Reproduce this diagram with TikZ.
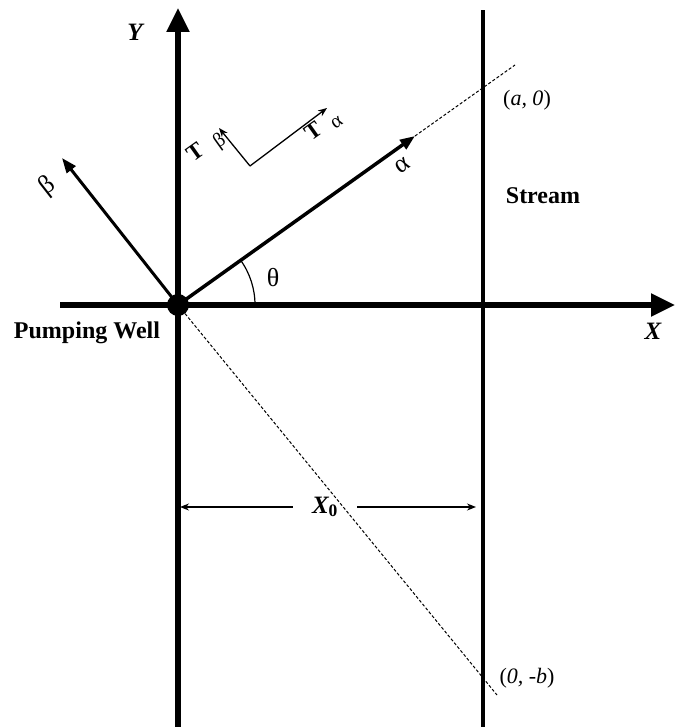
\documentclass[tikz,border=0pt]{standalone}
\usepackage{fontspec}
\setmainfont{Liberation Serif}
\usetikzlibrary{arrows.meta,positioning,calc}
\tikzset{
  ejeg/.style    = {line width=5.5pt, -{Triangle[length=24pt,width=22pt]}},
  ejerot/.style  = {line width=3.5pt, -{Triangle[length=15pt,width=11pt]}},
  rio/.style     = {line width=4pt},
  guia/.style    = {line width=1pt, dash pattern=on 3pt off 2pt},
  cota/.style    = {line width=1.3pt, -{Stealth[length=9pt,width=7pt]}},
  tens/.style    = {line width=1.3pt, -{Stealth[length=9pt,width=7pt]}},
  lbl/.style     = {font=\fontsize{26}{28}\selectfont, inner sep=0pt},
  lblt/.style    = {font=\bfseries\fontsize{23}{25}\selectfont, inner sep=0pt},
  lblg/.style    = {font=\fontsize{20}{22}\selectfont, inner sep=0pt},
  lblb/.style    = {font=\bfseries\fontsize{24}{26}\selectfont, inner sep=1pt},
  lblbi/.style   = {font=\bfseries\itshape\fontsize{25}{27}\selectfont, inner sep=1pt},
  lbli/.style    = {font=\fontsize{22}{24}\selectfont, inner sep=1pt},
}

\begin{document}
\begin{tikzpicture}[x=1pt, y=-1pt]
  \useasboundingbox (0,0) rectangle (675,727);
  % ejes y rio
  \coordinate (ytop) at (178,8);
  \coordinate (ybot) at (178,727);
  \coordinate (xizq) at (60,305);
  \coordinate (xder) at (675,305);
  \coordinate (rtop) at (483,10);
  \coordinate (rbot) at (483,727);
  \draw[ejeg] (ybot) -- (ytop);
  \draw[ejeg] (xizq) -- (xder);
  \draw[rio] (rbot) -- (rtop);
  \node[circle, fill, minimum size=22pt, inner sep=0pt] (pozo) at (178,305) {};
  % ejes girados
  \coordinate (alfa) at (415,136);
  \coordinate (alfafin) at (515,65);
  \coordinate (beta) at (62,158);
  \coordinate (bfin) at (497,695);
  \draw[ejerot] (pozo.center) -- (alfa);
  \draw[guia] (alfa) -- (alfafin);
  \draw[ejerot, line width=3pt] (pozo.center) -- (beta);
  \draw[guia] (pozo) -- (bfin);
  \draw[line width=1.2pt] (255,305) arc[start angle=0, end angle=35.5, radius=77pt];
  % T alfa / T beta
  \coordinate (esq) at (250,166);
  \coordinate (talfa) at (327,108);
  \coordinate (tbeta) at (219,128);
  \draw[tens] (esq) -- (talfa);
  \draw[tens] (esq) -- (tbeta);
  % cota X0
  \node[lblbi, minimum width=64pt] (xcero) at (325,507) {X\textsubscript{\upshape 0}};
  \coordinate (cizq) at (180,507);
  \coordinate (cder) at (476,507);
  \draw[cota] (xcero.west) -- (cizq);
  \draw[cota] (xcero.east) -- (cder);
  % textos
  \node[lblbi] (ly) at (135,32) {Y};
  \node[lblbi] (lx) at (653,331) {X};
  \node[lblb] (lpozo) at (87,333) {Pumping Well};
  \node[lblb] (lrio) at (543,196) {Stream};
  \node[lbli] (la) at (527,100) {(\textit{a, 0})};
  \node[lbli] (lb) at (527,678) {(\textit{0, -b})};
  \node[lbl, rotate=35.5] (lalfa) at (403,166) {α};
  \node[lbl, rotate=38] (lbeta) at (48,186) {β};
  \node[lbl] (ltheta) at (273,278) {θ};
  \node[lblt, rotate=35.5] (lta) at (313,131) {T};
  \node[lblg, rotate=35.5] (lta2) at (337,123) {α};
  \node[lblt, rotate=35.5] (ltb) at (195,152) {T};
  \node[lblg, rotate=35.5] (ltb2) at (220,142) {β};
\end{tikzpicture}
\end{document}
